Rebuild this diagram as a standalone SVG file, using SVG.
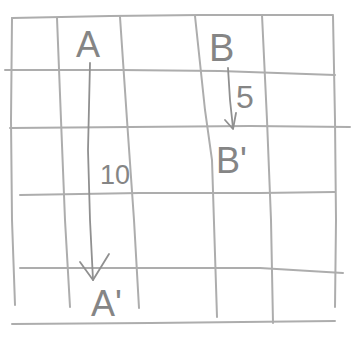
<svg xmlns="http://www.w3.org/2000/svg" width="352" height="338" viewBox="0 0 352 338">
<style>
.grid{fill:none;stroke:#adadad;stroke-width:2;stroke-linecap:round}
.edge{fill:none;stroke:#909090;stroke-width:1.8;stroke-linecap:round;stroke-linejoin:round}
.lbl{font-family:"Liberation Sans",Arial,sans-serif;fill:#858585;font-weight:normal}
</style>
<rect width="352" height="338" fill="#ffffff"/>
<g id="grid">
<path class="grid" d="M12 18 L110 16 L200 15 L333 15"/>
<path class="grid" d="M5 70 L120 70 L220 71 L335 75"/>
<path class="grid" d="M10 128 L130 127 L250 126 L350 127"/>
<path class="grid" d="M20 195 L140 193 L260 193 L335 192"/>
<path class="grid" d="M20 268 L150 268 L260 268 L343 273"/>
<path class="grid" d="M12 324 L150 323 L335 321"/>
<path class="grid" d="M12 18 L11 120 L12 220 L15 305"/>
<path class="grid" d="M57 18 L61 120 L65 220 L70 307"/>
<path class="grid" d="M120 17 L127 120 L134 220 L139 308"/>
<path class="grid" d="M195 16 L205 110 L212 160 L217 317"/>
<path class="grid" d="M262 15 L267 120 L271 220 L273 323"/>
<path class="grid" d="M333 16 L335 120 L336 220 L335 307"/>
</g>
<g id="connectors">
<g id="edge-A-A1">
<path class="edge" d="M90 63 L88 150 L90 220 L93 280"/>
<path class="edge" d="M80 262 L93 280 L109 254"/>
<text class="lbl" x="100" y="184" font-size="27">10</text>
</g>
<g id="edge-B-B1">
<path class="edge" d="M228 68 L230 100 L233 128"/>
<path class="edge" d="M225 120 L233 129 L236 113"/>
<text class="lbl" x="236" y="108" font-size="32">5</text>
</g>
</g>
<g id="node-A"><text class="lbl" x="76" y="57" font-size="36">A</text></g>
<g id="node-B"><text class="lbl" x="209" y="61" font-size="38">B</text></g>
<g id="node-B1"><text class="lbl" x="216" y="173" font-size="36">B'</text></g>
<g id="node-A1"><text class="lbl" x="91" y="316" font-size="36">A'</text></g>
</svg>
